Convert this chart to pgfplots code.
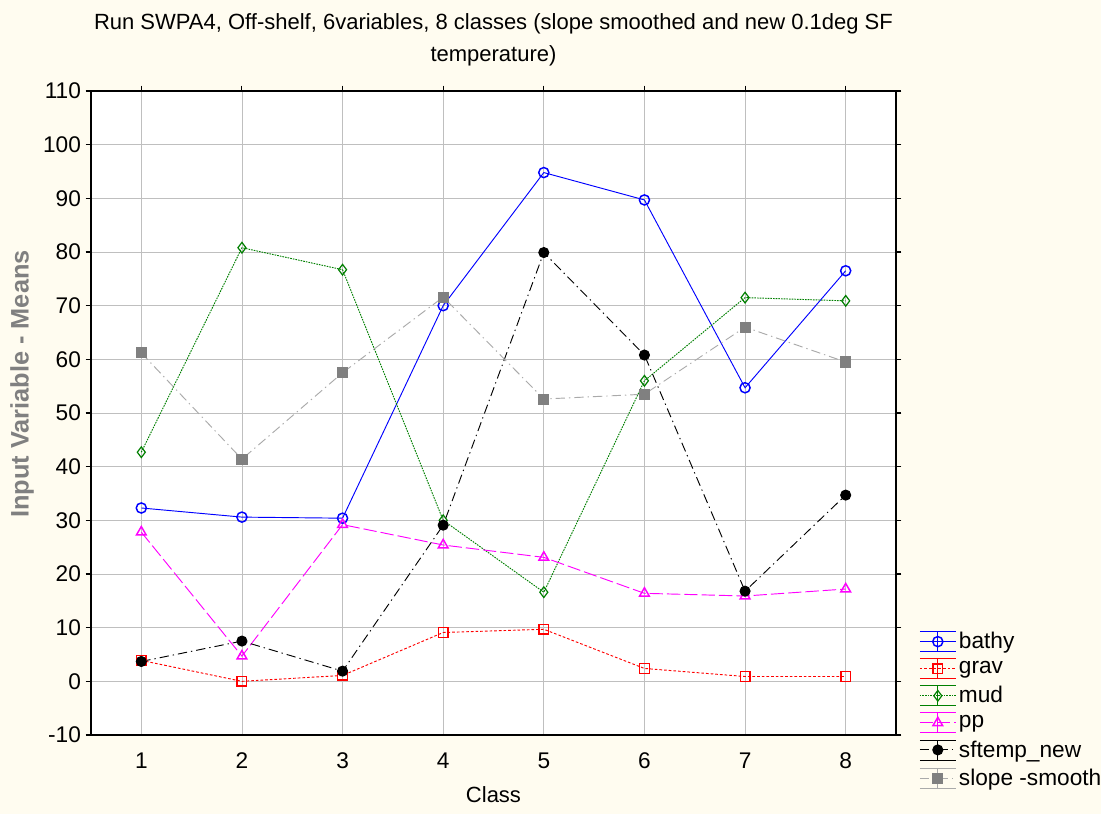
\documentclass[border=0pt]{standalone}
\usepackage{pgfplots}
\pgfplotsset{compat=1.18}
\usepackage{fontspec}
\setmainfont{Liberation Sans}
\definecolor{cream}{RGB}{255,252,240}
\definecolor{mgreen}{RGB}{0,128,0}
\definecolor{mgray}{RGB}{128,128,128}
\definecolor{lgray}{RGB}{170,170,170}
\definecolor{mmag}{RGB}{255,0,255}
\definecolor{mred}{RGB}{255,0,0}
\definecolor{mblue}{RGB}{0,0,255}
\begin{document}
\begin{tikzpicture}[x=0.75pt,y=0.75pt]
\fill[cream] (-91,-79) rectangle (1010,735);
\begin{axis}[
  scale only axis,
  width=603.75pt, height=483pt,
  xmin=0.5, xmax=8.5, ymin=-10, ymax=110,
  xtick={1,...,8}, ytick={-10,0,...,110},
  grid=major, grid style={draw=gray!50, line width=0.6pt},
  axis background/.style={fill=white},
  axis line style={black, line width=1pt},
  tick style={black, line width=0.8pt},
  tick align=outside, major tick length=4pt,
  xtick pos=upper, ytick pos=both,
  xticklabel pos=lower, yticklabel pos=left,
  tick label style={font=\fontsize{17}{18}\selectfont},
  xticklabel style={yshift=-6pt},
  /pgf/number format/assume math mode=true,
  title={Run SWPA4, Off-shelf, 6variables, 8 classes (slope smoothed and new 0.1deg SF\\temperature)},
  title style={font=\fontsize{16.5}{24.5}\selectfont, align=center, yshift=9pt},
  xlabel={Class},
  xlabel style={font=\fontsize{16.5}{18}\selectfont, yshift=-6pt},
  ylabel={Input Variable - Means},
  ylabel style={font=\bfseries\fontsize{19}{20}\selectfont, color=mgray, at={(ticklabel cs:0.545)}, yshift=0pt},
  legend cell align=left,
  legend style={at={(1.027,0.168)}, anchor=north west, draw=none, fill=cream,
    font=\fontsize{17}{20}\selectfont, row sep=3.6pt, inner xsep=1pt},
  legend image code/.code={
    \draw[#1,solid,mark=none,line width=0.6pt] (0cm,7.5pt) -- (0.95cm,7.5pt);
    \draw[#1,solid,mark=none,line width=0.6pt] (0cm,-7.5pt) -- (0.95cm,-7.5pt);
    \draw[#1,solid,mark=none,line width=0.6pt] (0.475cm,-7.5pt) -- (0.475cm,7.5pt);
    \draw[mark repeat=2,mark phase=2,#1] plot coordinates {(0cm,0cm) (0.475cm,0cm) (0.95cm,0cm)};
  },
  every axis plot/.append style={line width=0.7pt},
]
\addplot[mblue, solid, mark=o, mark size=3.8pt, mark options={line width=1.1pt}]
  coordinates {(1,32.3) (2,30.6) (3,30.4) (4,70.0) (5,94.8) (6,89.7) (7,54.7) (8,76.5)};
\addlegendentry{bathy}
\addplot[mred, dash pattern=on 2pt off 1.5pt, mark=square, mark size=3.6pt, mark options={solid,line width=1.1pt}]
  coordinates {(1,3.9) (2,0.0) (3,1.1) (4,9.1) (5,9.7) (6,2.4) (7,0.9) (8,0.9)};
\addlegendentry{grav}
\addplot[mgreen, dash pattern=on 1.2pt off 0.8pt, mark=diamond, mark size=4pt, mark options={solid,line width=0.9pt}]
  coordinates {(1,42.7) (2,80.8) (3,76.7) (4,30.0) (5,16.6) (6,56.0) (7,71.5) (8,70.9)};
\addlegendentry{mud}
\addplot[mmag, dash pattern=on 10pt off 3pt, mark=triangle, mark size=4.2pt, mark options={solid,line width=1.1pt}]
  coordinates {(1,27.8) (2,4.7) (3,29.2) (4,25.4) (5,23.1) (6,16.4) (7,15.9) (8,17.2)};
\addlegendentry{pp}
\addplot[black, dash pattern=on 7pt off 3pt on 1pt off 3pt, mark=*, mark size=3.8pt, mark options={solid}]
  coordinates {(1,3.7) (2,7.5) (3,1.9) (4,29.1) (5,79.9) (6,60.8) (7,16.8) (8,34.7)};
\addlegendentry{sftemp\_new}
\addplot[lgray, dash pattern=on 7pt off 3pt on 1pt off 3pt, mark=square*, mark size=3.8pt, mark options={solid,fill=mgray,draw=mgray}]
  coordinates {(1,61.2) (2,41.4) (3,57.5) (4,71.6) (5,52.6) (6,53.5) (7,66.0) (8,59.5)};
\addlegendentry{slope -smooth}
\end{axis}
\pgfresetboundingbox
\path[use as bounding box] (-91,-79) rectangle (1010,735);
\end{tikzpicture}
\end{document}
